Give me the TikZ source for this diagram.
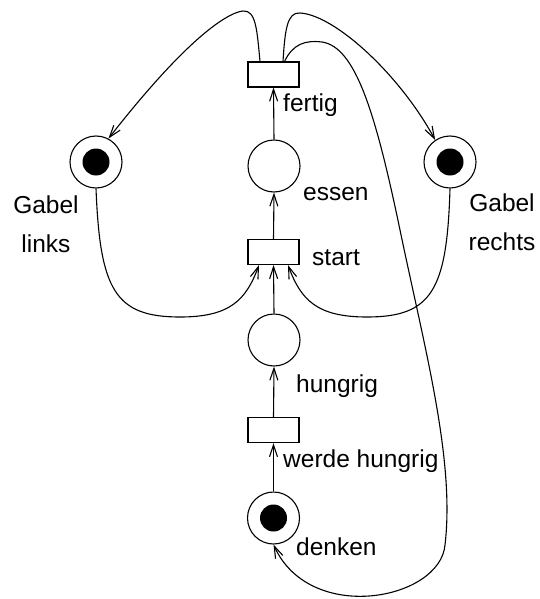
\documentclass[tikz,border=0pt]{standalone}
\usepackage{fontspec}
\setmainfont{Liberation Sans}
\usetikzlibrary{arrows.meta}
\begin{document}
\begin{tikzpicture}[x=1pt,y=-1pt,
  every node/.style={font=\fontsize{24.5}{39}\selectfont},
  place/.style={draw, circle, line width=1.1pt, minimum size=52pt, inner sep=0pt},
  marked/.style={place, path picture={\fill (path picture bounding box.center) circle (13.5pt);}},
  transition/.style={draw, rectangle, line width=1.1pt, minimum width=51pt, minimum height=25pt, inner sep=0pt},
  arc/.style={line width=1.1pt, -{Straight Barb[length=12pt,width=8pt]}},
  lbl/.style={anchor=base west, inner sep=0pt}]
\useasboundingbox (0,0) rectangle (539,599);

% transitions and places
\node[transition] (fertig) at (273.5,74.5) {};
\node[place] (essen) at (274,166) {};
\node[transition] (start) at (273.5,252) {};
\node[place] (hungrig) at (274,340) {};
\node[transition] (werde) at (273.5,430) {};
\node[marked] (denken) at (273.5,518) {};
\node[marked] (gl) at (96,162) {};
\node[marked] (gr) at (450,162) {};

% labels
\node[lbl] (lfertig) at (283,111) {fertig};
\node[lbl] (lessen) at (303,200) {essen};
\node[lbl] (lstart) at (312,265) {start};
\node[lbl] (lhungrig) at (296,392) {hungrig};
\node[lbl] (lwerde) at (283,467) {werde hungrig};
\node[lbl] (ldenken) at (296,555) {denken};
\node[anchor=base, align=center, inner sep=0pt] (lgl) at (46,252) {Gabel\\links};
\node[anchor=base, align=center, inner sep=0pt] (lgr) at (502,250) {Gabel\\rechts};

% straight arcs along the centre line
\draw[arc] (essen.north) -- (fertig.south);
\draw[arc] (start.north) -- (essen.south);
\draw[arc] (hungrig.north) -- (start.south);
\draw[arc] (werde.north) -- (hungrig.south);
\draw[arc] (denken.north) -- (werde.south);

% fertig returns the forks
\draw[arc] ([xshift=-13.5pt]fertig.north) .. controls (257,30) and (256,10) .. (243,11)
  .. controls (232,12) and (195,28) .. (gl.62);
\draw[arc] ([xshift=9.5pt]fertig.north) .. controls (285,30) and (287,12) .. (300,13)
  .. controls (335,15) and (400,75) .. (gr.124);

% fertig back to denken
\draw[arc] ([xshift=11pt]fertig.north) .. controls (293,44) and (305,40) .. (322,42)
  .. controls (355,47) and (375,110) .. (400,230)
  .. controls (425,350) and (455,460) .. (445,545)
  .. controls (440,600) and (310,625) .. (denken.south);

% forks taken by start
\draw[arc] (gl.south) .. controls (100,290) and (115,317) .. (180,317)
  .. controls (230,317) and (246,300) .. ([xshift=-14.5pt]start.south);
\draw[arc] (gr.south) .. controls (447,290) and (432,317) .. (367,317)
  .. controls (317,317) and (301,300) .. ([xshift=14.5pt]start.south);
\end{tikzpicture}
\end{document}
